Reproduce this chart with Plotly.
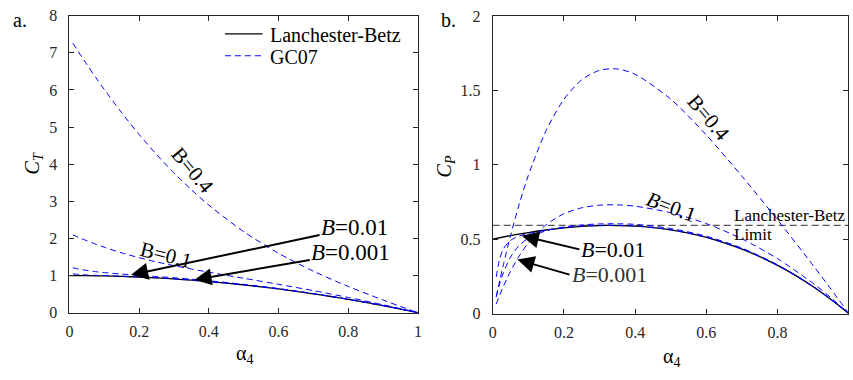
import plotly.graph_objects as go

# ---------------- data ----------------
alpha_lb = [0.0, 0.05, 0.1, 0.15, 0.2, 0.25, 0.3, 0.35, 0.4, 0.45, 0.5,
            0.55, 0.6, 0.65, 0.7, 0.75, 0.8, 0.85, 0.9, 0.95, 1.0]
ct_lb = [1.0, 0.9975, 0.99, 0.9775, 0.96, 0.9375, 0.91, 0.8775, 0.84, 0.7975, 0.75,
         0.6975, 0.64, 0.5775, 0.51, 0.4375, 0.36, 0.2775, 0.19, 0.0975, 0.0]
cp_lb = [0.5, 0.524, 0.545, 0.562, 0.576, 0.586, 0.592, 0.592, 0.588, 0.578, 0.563,
         0.541, 0.512, 0.476, 0.434, 0.383, 0.324, 0.257, 0.181, 0.095, 0.0]

alpha_gc = [0.01, 0.02, 0.03, 0.05, 0.075, 0.1, 0.15, 0.2, 0.25, 0.3, 0.35, 0.4,
            0.5, 0.6, 0.7, 0.8, 0.9, 0.95, 1.0]
ct_b04 = [7.256, 7.110, 6.966, 6.684, 6.343, 6.012, 5.384, 4.800, 4.260, 3.764, 3.310, 2.897,
          2.183, 1.600, 1.118, 0.707, 0.341, 0.168, 0.0]
cp_b04 = [0.115, 0.224, 0.328, 0.523, 0.739, 0.928, 1.230, 1.440, 1.571, 1.635, 1.644, 1.608,
          1.441, 1.200, 0.923, 0.630, 0.323, 0.164, 0.0]
ct_b01 = [2.097, 2.055, 2.015, 1.938, 1.848, 1.763, 1.612, 1.482, 1.369, 1.269, 1.177, 1.092,
          0.928, 0.765, 0.594, 0.411, 0.214, 0.109, 0.0]
cp_b01 = [0.065, 0.126, 0.183, 0.284, 0.389, 0.475, 0.597, 0.671, 0.711, 0.729, 0.731, 0.722,
          0.678, 0.605, 0.502, 0.369, 0.203, 0.106, 0.0]
ct_b001 = [1.211, 1.190, 1.170, 1.138, 1.106, 1.080, 1.041, 1.008, 0.975, 0.941, 0.903, 0.861,
           0.765, 0.651, 0.517, 0.365, 0.192, 0.099, 0.0]
cp_b001 = [0.112, 0.202, 0.275, 0.379, 0.459, 0.506, 0.557, 0.582, 0.596, 0.603, 0.604, 0.600,
           0.572, 0.520, 0.440, 0.328, 0.183, 0.096, 0.0]
ct_b0001 = [1.048, 1.036, 1.027, 1.016, 1.007, 1.000, 0.984, 0.965, 0.941, 0.913, 0.880, 0.842,
            0.752, 0.641, 0.511, 0.360, 0.190, 0.098, 0.0]
cp_b0001 = [0.247, 0.371, 0.435, 0.492, 0.522, 0.539, 0.561, 0.577, 0.587, 0.593, 0.594, 0.589,
            0.563, 0.513, 0.434, 0.324, 0.181, 0.095, 0.0]

betz_limit = 0.593
limit_x = [0.0, 1.0]

x_ticks_a = [0, 0.2, 0.4, 0.6, 0.8, 1]
y_ticks_a = [0, 1, 2, 3, 4, 5, 6, 7, 8]
x_ticks_b = [0, 0.2, 0.4, 0.6, 0.8]
y_ticks_b = [0, 0.5, 1, 1.5, 2]
legend_labels = ["Lanchester-Betz", "GC07"]

# ---------------- styles ----------------
FONT = "Liberation Serif, Times New Roman, serif"
AX = "#262626"
BLUE = "#0000ff"
DASH = "6px,4px"
GC_LINE = dict(color=BLUE, width=1, dash=DASH, shape="spline", smoothing=0.8)
LB_LINE = dict(color="black", width=1.3, shape="spline", smoothing=0.8)

fig = go.Figure()

# panel a
fig.add_trace(go.Scatter(x=alpha_lb, y=ct_lb, mode="lines", name=legend_labels[0],
                         line=LB_LINE, xaxis="x", yaxis="y"))
for ct in [ct_b04, ct_b01, ct_b001, ct_b0001]:
    fig.add_trace(go.Scatter(x=alpha_gc, y=ct, mode="lines", name=legend_labels[1],
                             line=GC_LINE, xaxis="x", yaxis="y"))

# panel b
fig.add_trace(go.Scatter(x=limit_x, y=[betz_limit, betz_limit], mode="lines",
                         name="Lanchester-Betz Limit",
                         line=dict(color="#555555", width=1.2, dash="7px,4px"),
                         xaxis="x2", yaxis="y2"))
fig.add_trace(go.Scatter(x=alpha_lb, y=cp_lb, mode="lines", name=legend_labels[0],
                         line=LB_LINE, xaxis="x2", yaxis="y2"))
for cp in [cp_b04, cp_b01, cp_b001, cp_b0001]:
    fig.add_trace(go.Scatter(x=alpha_gc, y=cp, mode="lines", name=legend_labels[1],
                             line=GC_LINE, xaxis="x2", yaxis="y2"))

axis_common = dict(showline=True, linecolor=AX, linewidth=1, mirror="ticks",
                   ticks="inside", ticklen=5, tickcolor=AX, tickwidth=1,
                   showgrid=False, zeroline=False, ticklabeloverflow="allow",
                   tickfont=dict(family=FONT, size=16, color=AX))

fig.update_layout(
    width=853, height=380,
    margin=dict(l=0, r=0, t=0, b=0),
    paper_bgcolor="white", plot_bgcolor="white",
    font=dict(family=FONT, color="black"),
    showlegend=False,
    xaxis=dict(domain=[0.0774, 0.490], range=[0, 1], tickvals=x_ticks_a,
               anchor="y", ticklabelstandoff=4, **axis_common),
    yaxis=dict(domain=[0.1605, 0.979], range=[0, 8], tickvals=y_ticks_a,
               anchor="x", ticklabelstandoff=8, **axis_common),
    xaxis2=dict(domain=[0.5783, 0.9994], range=[0, 0.999], tickvals=x_ticks_b,
                anchor="y2", ticklabelstandoff=4, **axis_common),
    yaxis2=dict(domain=[0.158, 0.978], range=[0, 2], tickvals=y_ticks_b,
                ticktext=["0", "0.5", "1", "1.5", "2"],
                anchor="x2", ticklabelstandoff=8, **axis_common),
)

ann = []
def txt(text, x, y, xref, yref, size=20, angle=0, xanchor="center", color="black"):
    ann.append(dict(text=text, x=x, y=y, xref=xref, yref=yref, showarrow=False,
                    textangle=angle, xanchor=xanchor, yanchor="middle",
                    font=dict(family=FONT, size=size, color=color)))

def arrow_label(text, xh, yh, xt, yt, xref, yref, size=22, xanchor="center", color="black"):
    # label placed at the arrow tail (xt, yt); arrow drawn from label to head (xh, yh)
    ann.append(dict(text=text, x=xh, y=yh, ax=xt, ay=yt, xref=xref, yref=yref,
                    axref=xref, ayref=yref, showarrow=True, arrowhead=2,
                    arrowsize=1.7, arrowwidth=2, arrowcolor="black",
                    standoff=0, startstandoff=0, xanchor=xanchor, yanchor="middle",
                    font=dict(family=FONT, size=size, color=color)))

W, H = 853.0, 380.0
def px(xp):
    return xp / W
def py(yp):
    return 1 - yp / H

# legend (panel a, top right)
shapes = [
    dict(type="line", xref="paper", yref="paper", x0=px(223), x1=px(261), y0=py(27), y1=py(27),
         line=dict(color="black", width=1.3)),
    dict(type="line", xref="paper", yref="paper", x0=px(223), x1=px(261), y0=py(50), y1=py(50),
         line=dict(color=BLUE, width=1, dash=DASH)),
]
txt(legend_labels[0], px(266), py(28), "paper", "paper", size=20, xanchor="left")
txt(legend_labels[1], px(266), py(51), "paper", "paper", size=20, xanchor="left")

# panel letters
txt("a.", px(16), py(13), "paper", "paper", size=20)
txt("b.", px(449), py(13), "paper", "paper", size=20)
# axis titles
txt("<i>C</i><sub><i>T</i></sub>", px(30), py(163), "paper", "paper", size=20, angle=-90)
txt("<i>C</i><sub><i>P</i></sub>", px(446), py(166), "paper", "paper", size=20, angle=-90)
txt("α<sub>4</sub>", px(243), py(363), "paper", "paper", size=20)
txt("α<sub>4</sub>", px(674), py(366), "paper", "paper", size=20)

# panel a labels
txt("B=0.4", 0.352, 3.83, "x", "y", size=21, angle=50)
txt("B=0.1", 0.276, 1.55, "x", "y", size=21, angle=14)
arrow_label("<i>B</i>=0.01", 0.177, 1.02, 0.818, 2.29, "x", "y", size=23)
arrow_label("<i>B</i>=0.001", 0.359, 0.89, 0.807, 1.61, "x", "y", size=23)

# panel b labels
txt("B=0.4", 0.607, 1.314, "x2", "y2", size=21, angle=50)
txt("<i>B</i>=0.1", 0.502, 0.718, "x2", "y2", size=21, angle=20)
txt("Lanchester-Betz", 0.671, 0.657, "x2", "y2", size=17, xanchor="left")
txt("Limit", 0.671, 0.529, "x2", "y2", size=17, xanchor="left")
arrow_label("<i>B</i>=0.01", 0.0817, 0.523, 0.2436, 0.432, "x2", "y2", size=22, xanchor="left")
arrow_label("<i>B</i>=0.001", 0.0694, 0.363, 0.2158, 0.262, "x2", "y2", size=22,
            xanchor="left", color="#333333")

fig.update_layout(annotations=ann, shapes=shapes)
fig.write_html("out.html")
